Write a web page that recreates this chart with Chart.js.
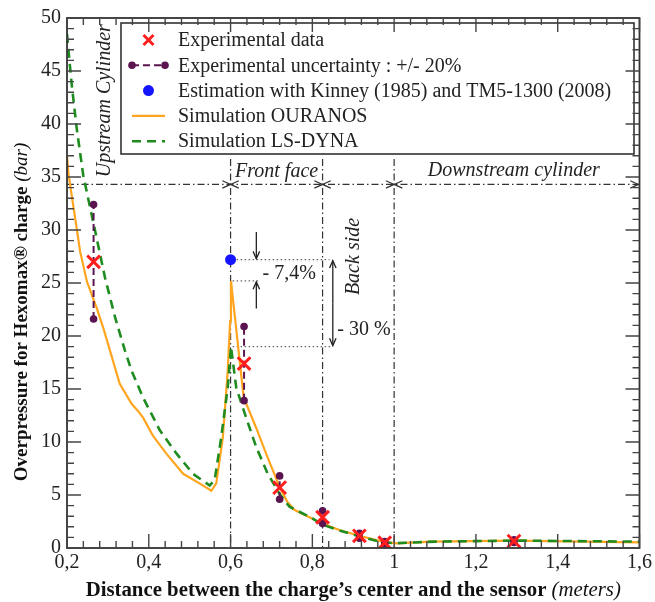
<!DOCTYPE html>
<html>
<head>
<meta charset="utf-8">
<script src="https://cdn.jsdelivr.net/npm/chart.js@4.4.0/dist/chart.umd.min.js"></script>
<style>
  html, body { margin: 0; padding: 0; background: #fff; }
</style>
</head>
<body>
<canvas id="blastChart" width="655" height="602"></canvas>
<script>
// Simulated overpressure curves (distance in m, pressure in bar)
const ouranosX = [0.2, 0.204, 0.22, 0.232, 0.249, 0.273, 0.29, 0.306, 0.329, 0.358, 0.372, 0.386, 0.41, 0.443, 0.484, 0.524, 0.553, 0.565, 0.581, 0.593, 0.599, 0.601, 0.632, 0.663, 0.69, 0.72, 0.738, 0.756, 0.793, 0.825, 0.866, 0.915, 0.971, 1.004, 1.09, 1.29, 1.6];
const ouranosY = [37.0, 35.2, 31.1, 28.0, 25.1, 22.6, 20.6, 18.5, 15.5, 13.6, 13.0, 12.3, 10.6, 8.9, 7.0, 6.1, 5.4, 6.1, 10.4, 16.7, 21.4, 25.2, 14.2, 11.3, 8.6, 5.75, 4.4, 3.6, 2.9, 2.3, 1.7, 1.15, 0.6, 0.44, 0.6, 0.69, 0.54];

const lsdynaX = [0.2, 0.211, 0.224, 0.24, 0.265, 0.293, 0.318, 0.342, 0.358, 0.386, 0.427, 0.468, 0.508, 0.549, 0.561, 0.577, 0.593, 0.601, 0.614, 0.638, 0.663, 0.691, 0.72, 0.744, 0.8, 0.825, 0.866, 0.915, 0.97, 1.0, 1.1, 1.3, 1.6];
const lsdynaY = [48.5, 43.9, 39.5, 35.1, 30.6, 25.5, 21.7, 18.6, 16.7, 14.2, 11.1, 8.9, 7.0, 5.9, 6.4, 10.4, 15.1, 19.0, 15.1, 12.3, 9.5, 7.0, 5.1, 3.9, 2.8, 2.2, 1.65, 1.1, 0.55, 0.45, 0.6, 0.7, 0.6];

// Measurements and their +/- 20 % band
const expX = [0.265, 0.633, 0.72, 0.825, 0.915, 0.977, 1.293];
const expY = [27.0, 17.4, 5.7, 2.9, 1.15, 0.5, 0.65];
const uncLow = [21.6, 13.9, 4.6, 2.3, 0.92, 0.4, 0.52];
const uncHigh = [32.4, 20.9, 6.8, 3.5, 1.38, 0.6, 0.78];

// Empirical estimate on the front face
const kinneyX = [0.6];
const kinneyY = [27.2];

// Zone limits: front face start, back side start, downstream cylinder start
const zoneX = [0.6, 0.825, 1.0];

const xTickValues = [0.2, 0.4, 0.6, 0.8, 1.0, 1.2, 1.4, 1.6];
const xTickLabels = ['0,2', '0,4', '0,6', '0,8', '1', '1,2', '1,4', '1,6'];
const yTickValues = [0, 5, 10, 15, 20, 25, 30, 35, 40, 45, 50];
const yTickLabels = ['0', '5', '10', '15', '20', '25', '30', '35', '40', '45', '50'];

const SERIF = '"Liberation Serif", "Times New Roman", serif';
const INK = '#222';
const pts = (xs, ys) => xs.map((x, i) => ({ x, y: ys[i] }));

// error bars as one broken line: low, high, gap
const errPts = [];
expX.forEach((x, i) => {
  errPts.push({ x, y: uncLow[i] }, { x, y: uncHigh[i] }, { x, y: null });
});

function arrowHead(ctx, x, y, ang, size) {
  ctx.beginPath();
  ctx.moveTo(x - size * Math.cos(ang - 0.42), y - size * Math.sin(ang - 0.42));
  ctx.lineTo(x, y);
  ctx.lineTo(x - size * Math.cos(ang + 0.42), y - size * Math.sin(ang + 0.42));
  ctx.stroke();
}

function vArrow(ctx, x, y0, y1, size) {
  ctx.beginPath();
  ctx.moveTo(x, y0);
  ctx.lineTo(x, y1);
  ctx.stroke();
  arrowHead(ctx, x, y1, y1 > y0 ? Math.PI / 2 : -Math.PI / 2, size);
}

function mixedText(ctx, parts, cx, cy) {
  // parts: [[text, font], ...] drawn centred on cx
  let total = 0;
  parts.forEach(p => { ctx.font = p[1]; total += ctx.measureText(p[0]).width; });
  let x = cx - total / 2;
  parts.forEach(p => {
    ctx.font = p[1];
    ctx.fillText(p[0], x, cy);
    x += ctx.measureText(p[0]).width;
  });
}

const decorations = {
  id: 'decorations',
  beforeDatasetsDraw(chart) {
    const { ctx, scales: { x: sx, y: sy } } = chart;
    const X = v => sx.getPixelForValue(v);
    const Y = v => sy.getPixelForValue(v);
    const lineY = Y(34.3);
    ctx.save();
    ctx.strokeStyle = '#333';
    ctx.lineWidth = 1.2;

    // zone limits (dash-dot)
    ctx.setLineDash([7, 3, 1.5, 3]);
    zoneX.forEach(z => {
      ctx.beginPath();
      ctx.moveTo(X(z), Y(36.7));
      ctx.lineTo(X(z), Y(0));
      ctx.stroke();
    });
    ctx.beginPath();
    ctx.moveTo(X(0.2), lineY);
    ctx.lineTo(X(1.6), lineY);
    ctx.stroke();
    ctx.setLineDash([]);
    zoneX.forEach(z => {
      arrowHead(ctx, X(z), lineY, 0, 9);
      arrowHead(ctx, X(z), lineY, Math.PI, 9);
    });
    arrowHead(ctx, X(1.6) - 1, lineY, 0, 9);

    // reference levels for the front-face peak
    const pKinney = kinneyY[0];
    const pOuranos = Math.max(...ouranosY.filter((v, i) => ouranosX[i] > 0.5));
    const pDyna = Math.max(...lsdynaY.filter((v, i) => lsdynaX[i] > 0.5));
    ctx.strokeStyle = '#666';
    ctx.lineWidth = 1.2;
    ctx.setLineDash([1.5, 2.5]);
    [[pKinney, 0.842], [pOuranos, 0.67], [pDyna, 0.846]].forEach(([v, end]) => {
      ctx.beginPath();
      ctx.moveTo(X(0.605), Y(v));
      ctx.lineTo(X(end), Y(v));
      ctx.stroke();
    });
    ctx.setLineDash([]);
    ctx.strokeStyle = '#222';
    ctx.lineWidth = 1.3;
    vArrow(ctx, X(0.663), Y(29.8), Y(pKinney) - 1, 8);
    vArrow(ctx, X(0.663), Y(22.6), Y(pOuranos) + 1, 8);
    vArrow(ctx, X(0.85), Y((pKinney + pDyna) / 2), Y(pKinney) + 1, 8);
    vArrow(ctx, X(0.85), Y((pKinney + pDyna) / 2), Y(pDyna) - 1, 8);

    // zone names and percentages
    ctx.fillStyle = INK;
    ctx.textBaseline = 'alphabetic';
    ctx.textAlign = 'center';
    ctx.font = 'italic 20px ' + SERIF;
    ctx.fillText('Front face', (X(zoneX[0]) + X(zoneX[1])) / 2, Y(35.0));
    ctx.fillText('Downstream cylinder', (X(zoneX[2]) + X(1.6)) / 2 - 3, Y(35.1));
    ctx.save();
    ctx.translate(X(0.306), Y(42.2));
    ctx.rotate(-Math.PI / 2);
    ctx.fillText('Upstream Cylinder', 0, 0);
    ctx.restore();
    ctx.save();
    ctx.translate(X(0.913), Y(27.5));
    ctx.rotate(-Math.PI / 2);
    ctx.fillText('Back side', 0, 0);
    ctx.restore();

    ctx.font = '20px ' + SERIF;
    ctx.textAlign = 'left';
    ctx.textBaseline = 'middle';
    ctx.fillText('- 7,4%', X(0.678), Y(25.9));
    ctx.fillText('- 30 %', X(0.861), Y(20.6));
    ctx.restore();
  },

  afterDatasetsDraw(chart) {
    const { ctx, chartArea: a, scales: { x: sx, y: sy } } = chart;
    ctx.save();

    // legend
    const box = { l: 121, t: 23, r: 634, b: 154 };
    ctx.fillStyle = '#fff';
    ctx.fillRect(box.l, box.t, box.r - box.l, box.b - box.t);
    ctx.strokeStyle = '#333';
    ctx.lineWidth = 1.6;
    ctx.strokeRect(box.l, box.t, box.r - box.l, box.b - box.t);
    const sx0 = 132, sx1 = 165, sxm = 148.5;
    chart.data.datasets.forEach((ds, i) => {
      const yy = box.t + 17 + i * 25.3;
      ctx.save();
      if (ds.pointStyle === 'crossRot') {
        ctx.strokeStyle = ds.borderColor;
        ctx.lineWidth = ds.borderWidth;
        const r = 5;
        ctx.beginPath();
        ctx.moveTo(sxm - r, yy - r); ctx.lineTo(sxm + r, yy + r);
        ctx.moveTo(sxm + r, yy - r); ctx.lineTo(sxm - r, yy + r);
        ctx.stroke();
      } else if (!ds.showLine) {
        ctx.fillStyle = ds.backgroundColor;
        ctx.beginPath();
        ctx.arc(sxm, yy, ds.pointRadius, 0, Math.PI * 2);
        ctx.fill();
      } else {
        ctx.strokeStyle = ds.borderColor;
        ctx.lineWidth = ds.borderWidth;
        ctx.setLineDash(ds.borderDash || []);
        ctx.beginPath();
        ctx.moveTo(sx0, yy); ctx.lineTo(sx1, yy);
        ctx.stroke();
        if (ds.pointRadius > 0) {
          ctx.fillStyle = ds.pointBackgroundColor;
          [sx0, sx1].forEach(px => {
            ctx.beginPath();
            ctx.arc(px, yy, ds.pointRadius, 0, Math.PI * 2);
            ctx.fill();
          });
        }
      }
      ctx.restore();
      ctx.fillStyle = INK;
      ctx.font = '20px ' + SERIF;
      ctx.textAlign = 'left';
      ctx.textBaseline = 'middle';
      ctx.fillText(ds.label, 178, yy + 1);
    });

    // frame with inward ticks on all four sides
    ctx.strokeStyle = '#333';
    ctx.lineWidth = 1.8;
    ctx.strokeRect(a.left, a.top, a.right - a.left, a.bottom - a.top);
    ctx.lineWidth = 1.4;
    ctx.strokeStyle = '#444';
    ctx.beginPath();
    for (let k = 0; k <= 35; k++) {
      const px = sx.getPixelForValue(0.2 + k * 0.04);
      const len = k % 5 === 0 ? 14 : 7;
      ctx.moveTo(px, a.bottom); ctx.lineTo(px, a.bottom - len);
      ctx.moveTo(px, a.top); ctx.lineTo(px, a.top + len);
    }
    for (let k = 0; k <= 50; k++) {
      const py = sy.getPixelForValue(k);
      const len = k % 5 === 0 ? 14 : 7;
      ctx.moveTo(a.left, py); ctx.lineTo(a.left + len, py);
      ctx.moveTo(a.right, py); ctx.lineTo(a.right - len, py);
    }
    ctx.stroke();

    // axis titles
    ctx.fillStyle = '#111';
    ctx.textAlign = 'left';
    ctx.textBaseline = 'alphabetic';
    mixedText(ctx, [
      ['Distance between the charge\u2019s center and the sensor ', 'bold 20.8px ' + SERIF],
      ['(meters)', 'italic 20.8px ' + SERIF]
    ], (a.left + a.right) / 2, 596);
    ctx.translate(27, 312);
    ctx.rotate(-Math.PI / 2);
    mixedText(ctx, [
      ['Overpressure for Hexomax\u00ae charge ', 'bold 19px ' + SERIF],
      ['(bar)', 'italic 19px ' + SERIF]
    ], 0, 0);
    ctx.restore();
  }
};

const ctx = document.getElementById('blastChart').getContext('2d');
const chart = new Chart(ctx, {
  type: 'scatter',
  data: {
    datasets: [
      {
        label: 'Experimental data',
        data: pts(expX, expY),
        pointStyle: 'crossRot',
        pointRadius: 9,
        borderColor: '#ff1f1f',
        borderWidth: 3,
        showLine: false,
        order: 0
      },
      {
        label: 'Experimental uncertainty : +/- 20%',
        data: errPts,
        showLine: true,
        spanGaps: false,
        borderColor: '#5c1450',
        borderWidth: 2,
        borderDash: [7, 4],
        pointRadius: 3.8,
        pointBackgroundColor: '#5c1450',
        pointBorderWidth: 0,
        order: 1
      },
      {
        label: 'Estimation with Kinney (1985) and TM5-1300 (2008)',
        data: pts(kinneyX, kinneyY),
        showLine: false,
        pointRadius: 5.5,
        backgroundColor: '#1414ff',
        pointBorderWidth: 0,
        order: 2
      },
      {
        label: 'Simulation OURANOS',
        data: pts(ouranosX, ouranosY),
        showLine: true,
        borderColor: '#ffa51f',
        borderWidth: 2.2,
        pointRadius: 0,
        tension: 0,
        order: 4
      },
      {
        label: 'Simulation LS-DYNA',
        data: pts(lsdynaX, lsdynaY),
        showLine: true,
        borderColor: '#1f8c1f',
        borderWidth: 2.6,
        borderDash: [9, 6],
        pointRadius: 0,
        tension: 0,
        order: 3
      }
    ]
  },
  options: {
    responsive: false,
    animation: false,
    devicePixelRatio: 1,
    layout: { padding: { top: 15, right: 14, left: 0, bottom: 0 } },
    plugins: {
      legend: { display: false },
      tooltip: { enabled: false }
    },
    scales: {
      x: {
        type: 'linear',
        min: 0.2,
        max: 1.6,
        grid: { display: false, drawTicks: false },
        border: { display: false },
        afterBuildTicks: s => { s.ticks = xTickValues.map(v => ({ value: v })); },
        afterFit: s => { s.height = 54; },
        ticks: {
          callback: (v, i) => xTickLabels[i],
          font: { family: SERIF, size: 20 },
          color: INK,
          padding: 3,
          maxRotation: 0,
          autoSkip: false
        }
      },
      y: {
        type: 'linear',
        min: 0,
        max: 50,
        grid: { display: false, drawTicks: false },
        border: { display: false },
        afterBuildTicks: s => { s.ticks = yTickValues.map(v => ({ value: v })); },
        afterFit: s => { s.width = 67; },
        ticks: {
          callback: (v, i) => yTickLabels[i],
          font: { family: SERIF, size: 20 },
          color: INK,
          padding: 6,
          autoSkip: false
        }
      }
    }
  },
  plugins: [decorations]
});
</script>
</body>
</html>
